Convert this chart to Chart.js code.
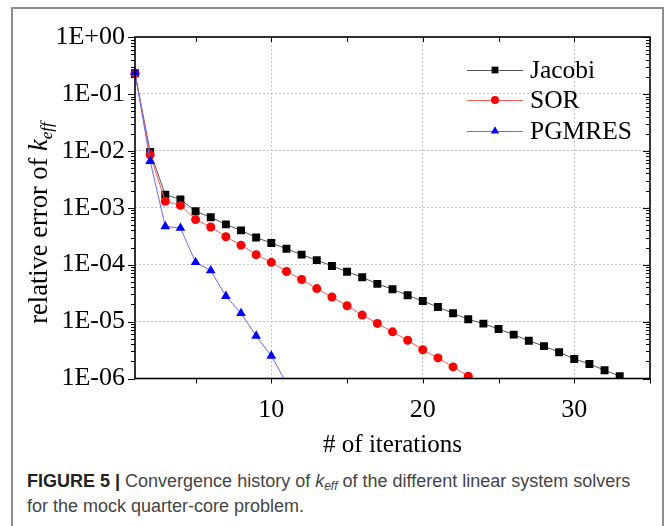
<!doctype html>
<html lang="en">
<head>
    <meta charset="UTF-8">
    <title>Convergence history</title>
    <script src="https://cdn.jsdelivr.net/npm/chart.js"></script>
    <style>
        body { margin: 0; background: #fff; }
        #frame {
            position: absolute; left: 11px; top: 7px; width: 653px; height: 540px;
            border: 2px solid #8c8c8c; box-sizing: border-box;
        }
        #plot { position: absolute; left: 0; top: 0; }
        #caption {
            position: absolute; left: 27px; top: 469px; width: 634px;
            font-family: "Liberation Sans", Arial, sans-serif; font-size: 18px;
            line-height: 25px; color: #444;
        }
        #caption b { color: #222; }
        #caption sub { font-size: 12px; line-height: 0; vertical-align: -3px; }
    </style>
</head>
<body>
<div id="frame"></div>
<canvas id="plot" width="667" height="460"></canvas>
<div id="caption"><b>FIGURE 5 |</b> Convergence history of <i>k<sub>eff</sub></i> of the different linear system solvers<br>for the mock quarter-core problem.</div>
<script>
  const iterations = [1, 2, 3, 4, 5, 6, 7, 8, 9, 10, 11, 12, 13, 14, 15, 16, 17, 18, 19, 20,
    21, 22, 23, 24, 25, 26, 27, 28, 29, 30, 31, 32, 33];

  const jacobi = [0.23, 9.6e-3, 1.7e-3, 1.4e-3, 8.7e-4, 6.8e-4, 5.1e-4, 4.0e-4, 3.0e-4, 2.4e-4,
    1.9e-4, 1.5e-4, 1.2e-4, 9.5e-5, 7.5e-5, 6.0e-5, 4.6e-5, 3.7e-5, 2.9e-5, 2.3e-5,
    1.8e-5, 1.4e-5, 1.1e-5, 9.2e-6, 7.4e-6, 5.9e-6, 4.6e-6, 3.7e-6, 2.9e-6, 2.2e-6,
    1.8e-6, 1.4e-6, 1.1e-6];
  const sor = [0.23, 8.5e-3, 1.3e-3, 1.1e-3, 6.2e-4, 4.6e-4, 3.1e-4, 2.2e-4, 1.5e-4, 1.1e-4,
    7.6e-5, 5.5e-5, 3.8e-5, 2.7e-5, 1.9e-5, 1.3e-5, 9.3e-6, 6.6e-6, 4.7e-6, 3.2e-6,
    2.3e-6, 1.6e-6, 1.1e-6];
  const pgmres = [0.24, 6.6e-3, 4.7e-4, 4.4e-4, 1.1e-4, 7.9e-5, 2.8e-5, 1.4e-5, 5.6e-6, 2.5e-6,
    8.3e-7];

  const xLabelTicks = [10, 20, 30];
  const xMarks = [5, 10, 15, 20, 25, 30, 35];
  const yDecades = [1e-6, 1e-5, 1e-4, 1e-3, 1e-2, 1e-1, 1];

  const serif = '"Liberation Serif", "Times New Roman", serif';

  function points(values) {
    return values.map((v, i) => ({x: iterations[i], y: v}));
  }

  function expLabel(v) {
    const e = Math.round(Math.log10(v));
    return '1E' + (e >= 0 ? '+' : '-') + String(Math.abs(e)).padStart(2, '0');
  }

  // hide markers that fall below the axis
  const radiusIn = (r) => (c) => (c.raw && c.raw.y < 1e-6 ? 0 : r);

  const series = [
    {label: 'Jacobi', data: points(jacobi), borderColor: '#555', backgroundColor: '#000',
      pointStyle: 'rect', pointRadius: radiusIn(5.6), order: 2},
    {label: 'SOR', data: points(sor), borderColor: '#ff5a5a', backgroundColor: '#ff0000',
      pointStyle: 'circle', pointRadius: radiusIn(4.5), order: 1},
    {label: 'PGMRES', data: points(pgmres), borderColor: '#6a6aff', backgroundColor: '#0000ff',
      pointStyle: 'triangle', pointRadius: radiusIn(5.6), order: 0}
  ];

  function marker(ctx, style, x, y, r) {
    ctx.beginPath();
    if (style === 'rect') {
      const s = r * Math.SQRT1_2;
      ctx.rect(x - s, y - s, 2 * s, 2 * s);
    } else if (style === 'circle') {
      ctx.arc(x, y, r, 0, Math.PI * 2);
    } else {
      ctx.moveTo(x, y - r);
      ctx.lineTo(x + r * 0.866, y + r * 0.5);
      ctx.lineTo(x - r * 0.866, y + r * 0.5);
      ctx.closePath();
    }
    ctx.fill();
  }

  const decor = {
    id: 'decor',
    afterDraw(chart) {
      const {ctx, chartArea: a, scales: {x, y}} = chart;
      ctx.save();
      ctx.setLineDash([]);
      ctx.strokeStyle = '#000';

      // tick marks
      ctx.lineWidth = 1;
      ctx.beginPath();
      xMarks.forEach((v) => {
        const px = Math.round(x.getPixelForValue(v)) + 0.5;
        ctx.moveTo(px, a.bottom); ctx.lineTo(px, a.bottom + 5);
        ctx.moveTo(px, a.top); ctx.lineTo(px, a.top + 5);
      });
      yDecades.forEach((d, k) => {
        const ms = k === yDecades.length - 1 ? [1] : [1, 2, 3, 4, 5, 6, 7, 8, 9];
        ms.forEach((m) => {
          const py = Math.round(y.getPixelForValue(m * d)) + 0.5;
          const len = m === 1 ? 7 : 4;
          ctx.moveTo(a.left - len, py); ctx.lineTo(a.left, py);
          ctx.moveTo(a.right - len, py); ctx.lineTo(a.right, py);
        });
      });
      ctx.stroke();

      // axis box
      ctx.lineWidth = 1.6;
      ctx.strokeRect(a.left, a.top, a.right - a.left, a.bottom - a.top);

      // legend
      ctx.font = '25.5px ' + serif;
      ctx.textBaseline = 'middle';
      ctx.textAlign = 'left';
      const rows = [70, 100, 131];
      series.forEach((s, i) => {
        const yy = rows[i];
        ctx.strokeStyle = s.borderColor;
        ctx.lineWidth = 1;
        ctx.beginPath();
        ctx.moveTo(467, yy + 0.5); ctx.lineTo(523, yy + 0.5);
        ctx.stroke();
        ctx.fillStyle = s.backgroundColor;
        marker(ctx, s.pointStyle, 495, yy, s.pointStyle === 'circle' ? 4 : 4.8);
        ctx.fillStyle = '#000';
        ctx.fillText(s.label, 530, yy + 1);
      });

      // x title
      ctx.font = '25px ' + serif;
      ctx.textAlign = 'center';
      ctx.textBaseline = 'alphabetic';
      ctx.fillText('# of iterations', (a.left + a.right) / 2, 452);

      // y title with italic k_eff
      const main = 'relative error of ';
      ctx.font = '26.5px ' + serif;
      const w1 = ctx.measureText(main).width;
      ctx.font = 'italic 26.5px ' + serif;
      const w2 = ctx.measureText('k').width;
      ctx.font = 'italic 17px ' + serif;
      const w3 = ctx.measureText('eff').width;
      const total = w1 + w2 + w3;
      ctx.translate(47, 223);
      ctx.rotate(-Math.PI / 2);
      ctx.textAlign = 'left';
      let cx = -total / 2;
      ctx.font = '26.5px ' + serif;
      ctx.fillText(main, cx, 0);
      cx += w1;
      ctx.font = 'italic 26.5px ' + serif;
      ctx.fillText('k', cx, 0);
      cx += w2;
      ctx.font = 'italic 17px ' + serif;
      ctx.fillText('eff', cx, 5);
      ctx.restore();
    }
  };

  new Chart(document.getElementById('plot'), {
    type: 'line',
    data: {
      datasets: series.map((s) => ({
        label: s.label,
        data: s.data,
        borderColor: s.borderColor,
        backgroundColor: s.backgroundColor,
        pointBackgroundColor: s.backgroundColor,
        pointBorderColor: s.backgroundColor,
        pointBorderWidth: 0,
        pointStyle: s.pointStyle,
        pointRadius: s.pointRadius,
        borderWidth: 1,
        tension: 0,
        order: s.order,
        clip: {left: 8, top: 8, right: 8, bottom: 0}
      }))
    },
    options: {
      responsive: false,
      animation: false,
      events: [],
      layout: {padding: {left: 0, top: 37, right: 17, bottom: 0}},
      plugins: {legend: {display: false}, tooltip: {enabled: false}},
      scales: {
        x: {
          type: 'linear',
          min: 1,
          max: 35,
          afterBuildTicks: (scale) => { scale.ticks = xLabelTicks.map((v) => ({value: v})); },
          afterFit: (scale) => { scale.height = 81.5; },
          grid: {color: '#c4c4c4', lineWidth: 1, drawTicks: false},
          border: {display: false, dash: [2, 2]},
          ticks: {color: '#000', padding: 16, maxRotation: 0, font: {family: serif, size: 26}}
        },
        y: {
          type: 'logarithmic',
          min: 1e-6,
          max: 1,
          afterBuildTicks: (scale) => { scale.ticks = yDecades.map((v) => ({value: v})); },
          afterFit: (scale) => { scale.width = 135; },
          grid: {color: '#c4c4c4', lineWidth: 1, drawTicks: false},
          border: {display: false, dash: [2, 2]},
          ticks: {color: '#000', padding: 10, font: {family: serif, size: 26}, callback: (v) => expLabel(v)}
        }
      }
    },
    plugins: [decor]
  });
</script>
</body>
</html>
